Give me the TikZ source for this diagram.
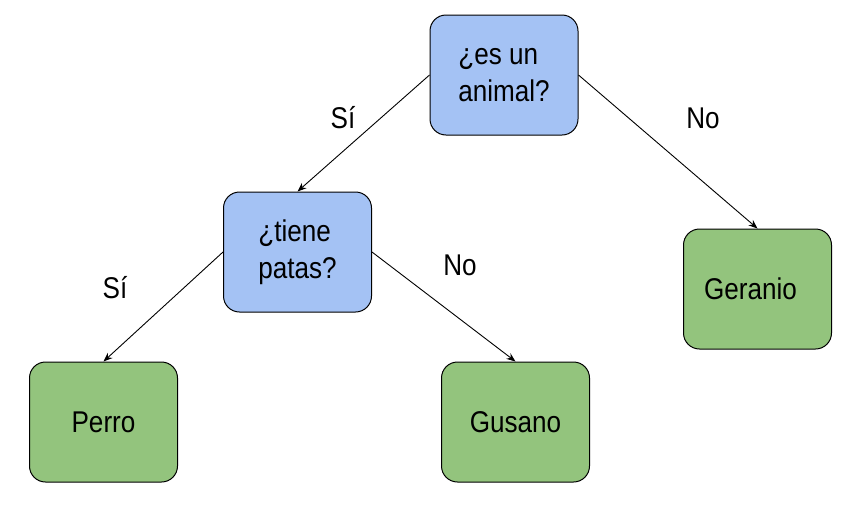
\documentclass[tikz,border=0pt]{standalone}
\usepackage{fontspec}
\setmainfont{Liberation Sans}
\newfontfamily\diagfont[FakeStretch=0.87]{Liberation Sans}
\usetikzlibrary{arrows.meta}
\definecolor{qblue}{HTML}{A4C2F4}
\definecolor{lgreen}{HTML}{93C47D}
\tikzset{
  box/.style={draw=black, line width=1pt, rounded corners=16pt, minimum width=148pt, minimum height=120pt, inner sep=0pt, align=left, font=\diagfont\fontsize{30pt}{37pt}\selectfont},
  question/.style={box, fill=qblue},
  leaf/.style={box, fill=lgreen},
  conn/.style={line width=0.9pt, -{Stealth[length=9pt,width=7pt]}},
  edgelbl/.style={font=\diagfont\fontsize{30pt}{37pt}\selectfont, inner sep=0pt}
}
\begin{document}
\begin{tikzpicture}[x=1pt,y=-1pt]
\useasboundingbox (0,0) rectangle (857,512);
\node[question] (A) at (504,75) {¿es un\\animal?};
\node[question] (B) at (297.5,252) {¿tiene\\patas?};
\node[leaf] (G) at (757.5,289) {\hspace*{-14pt}Geranio};
\node[leaf] (P) at (103.5,422) {Perro};
\node[leaf] (W) at (515.5,422) {Gusano};
\draw[conn] (A.west) -- (B.north);
\draw[conn] (A.east) -- (G.north);
\draw[conn] (B.west) -- (P.north);
\draw[conn] (B.east) -- (W.north);
\node[edgelbl] (l1) at (343,118) {Sí};
\node[edgelbl] (l2) at (703,118) {No};
\node[edgelbl] (l3) at (115,288) {Sí};
\node[edgelbl] (l4) at (460,265) {No};
\end{tikzpicture}
\end{document}
